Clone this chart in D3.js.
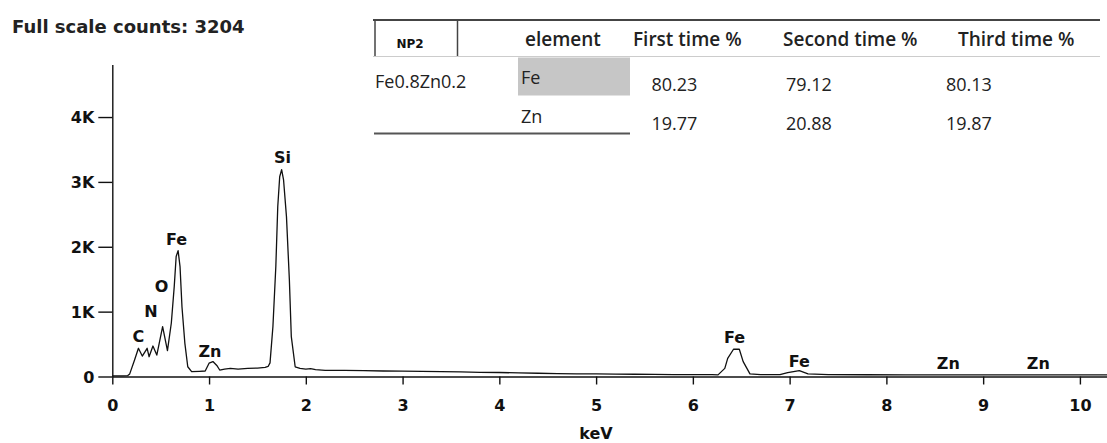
<!DOCTYPE html>
<html>
<head>
<meta charset="utf-8">
<script src="https://cdn.jsdelivr.net/npm/d3@7"></script>
<style>
  body { margin: 0; background: #fff; }
  svg { display: block; }
</style>
</head>
<body>
<div id="chart"></div>
<script>
// EDS spectrum (keV vs counts)
var energy = [0, 0.10, 0.16, 0.18, 0.23, 0.27, 0.31, 0.36, 0.38, 0.42, 0.46, 0.52, 0.57, 0.61, 0.64, 0.66, 0.68, 0.70, 0.72, 0.75, 0.78, 0.82, 0.90, 0.96, 1.00, 1.04, 1.08, 1.11, 1.16, 1.22, 1.30, 1.40, 1.50, 1.58, 1.61, 1.63, 1.66, 1.69, 1.71, 1.73, 1.75, 1.77, 1.80, 1.83, 1.85, 1.89, 1.94, 2.00, 2.05, 2.10, 2.20, 2.40, 2.60, 2.80, 3.00, 3.20, 3.40, 3.60, 3.80, 4.00, 4.20, 4.40, 4.60, 4.80, 5.00, 5.20, 5.40, 5.60, 5.80, 6.00, 6.20, 6.26, 6.33, 6.36, 6.42, 6.48, 6.52, 6.59, 6.70, 6.90, 6.98, 7.10, 7.19, 7.40, 7.80, 8.20, 8.60, 9.00, 9.40, 9.80, 10.28];
var counts = [10, 10, 15, 40, 255, 435, 315, 435, 305, 470, 330, 770, 400, 825, 1385, 1850, 1940, 1695, 1075, 510, 150, 75, 80, 85, 205, 230, 170, 100, 115, 125, 115, 125, 130, 140, 155, 210, 770, 1695, 2620, 3080, 3190, 3030, 2465, 1490, 615, 150, 125, 115, 120, 105, 95, 95, 90, 85, 82, 78, 75, 72, 65, 62, 55, 50, 45, 42, 40, 38, 35, 33, 30, 30, 28, 25, 125, 280, 420, 420, 230, 40, 30, 28, 60, 90, 40, 28, 27, 26, 25, 25, 24, 24, 24];

// peak labels: element, keV, count level of the label baseline
var peakNames = ["C", "N", "O", "Fe", "Zn", "Si", "Fe", "Fe", "Zn", "Zn"];
var peakKeV = [0.27, 0.40, 0.51, 0.665, 1.01, 1.76, 6.43, 7.10, 8.64, 9.57];
var peakLevel = [537, 923, 1309, 2029, 301, 3295, 517, 151, 116, 116];

var xTicks = [0, 1, 2, 3, 4, 5, 6, 7, 8, 9, 10];
var yTicks = [0, 1000, 2000, 3000, 4000];
var fullScale = 3204;

// composition table
var sampleName = "Fe0.8Zn0.2";
var tableTag = "NP2";
var headers = ["element", "First time %", "Second time %", "Third time %"];
var elements = ["Fe", "Zn"];
var firstTime = [80.23, 19.77];
var secondTime = [79.12, 20.88];
var thirdTime = [80.13, 19.87];

var width = 1107, height = 443;
var boldFont = "'DejaVu Sans', Verdana, sans-serif";
var tableFont = "'Open Sans', sans-serif";

var svg = d3.select("#chart").append("svg")
    .attr("width", width)
    .attr("height", height);

svg.append("rect").attr("width", width).attr("height", height).attr("fill", "#fff");

var x = d3.scaleLinear().domain([0, 10.28]).range([112.3, 1107]);
var y = d3.scaleLinear().domain([0, 4810]).range([376.5, 64.5]);

// axes
var xAxis = g => g
    .attr("transform", `translate(0,${y(0)})`)
    .call(d3.axisBottom(x).tickValues(xTicks).tickSize(8).tickSizeOuter(0).tickPadding(15).tickFormat(d3.format("d")))
    .call(g => g.selectAll("line, path").attr("stroke", "#111").attr("stroke-width", 1.4))
    .call(g => g.selectAll("text").attr("fill", "#111"));

var yAxis = g => g
    .attr("transform", `translate(${x(0)},0)`)
    .call(d3.axisLeft(y).tickValues(yTicks).tickSize(14).tickSizeOuter(0).tickPadding(4)
        .tickFormat(d => d === 0 ? "0" : (d / 1000) + "K"))
    .call(g => g.selectAll("line, path").attr("stroke", "#111").attr("stroke-width", 1.4))
    .call(g => g.selectAll("text").attr("fill", "#111").attr("dy", "0.36em"));

svg.append("g").call(xAxis)
    .attr("font-family", boldFont).attr("font-size", 16).attr("font-weight", "bold");
svg.append("g").call(yAxis)
    .attr("font-family", boldFont).attr("font-size", 16).attr("font-weight", "bold");

svg.append("text")
    .attr("x", 596).attr("y", 439)
    .attr("text-anchor", "middle")
    .attr("font-family", boldFont).attr("font-size", 16).attr("font-weight", "bold")
    .attr("fill", "#111")
    .text("keV");

svg.append("text")
    .attr("x", 12).attr("y", 33)
    .attr("font-family", boldFont).attr("font-size", 18).attr("font-weight", "bold")
    .attr("fill", "#222")
    .text("Full scale counts: " + fullScale);

// spectrum
var line = d3.line()
    .x((d, i) => x(energy[i]))
    .y(d => y(d));

svg.append("path")
    .datum(counts)
    .attr("fill", "none")
    .attr("stroke", "#111")
    .attr("stroke-width", 1.3)
    .attr("stroke-linejoin", "round")
    .attr("d", line);

svg.append("g")
    .attr("font-family", boldFont).attr("font-size", 16).attr("font-weight", "bold")
    .attr("fill", "#111").attr("text-anchor", "middle")
    .selectAll("text")
    .data(peakNames)
    .join("text")
    .attr("x", (d, i) => x(peakKeV[i]))
    .attr("y", (d, i) => y(peakLevel[i]))
    .text(d => d);

// table
var tbl = svg.append("g").attr("font-family", tableFont).attr("fill", "#222");

tbl.append("rect")
    .attr("x", 518).attr("y", 57.5).attr("width", 112).attr("height", 38)
    .attr("fill", "#c6c6c6");

tbl.append("line").attr("x1", 373).attr("x2", 1100).attr("y1", 20).attr("y2", 20)
    .attr("stroke", "#444").attr("stroke-width", 2);
tbl.append("line").attr("x1", 373).attr("x2", 1100).attr("y1", 56.5).attr("y2", 56.5)
    .attr("stroke", "#ccc").attr("stroke-width", 1);
tbl.append("line").attr("x1", 375).attr("x2", 375).attr("y1", 20).attr("y2", 56)
    .attr("stroke", "#444").attr("stroke-width", 1.5);
tbl.append("line").attr("x1", 457.5).attr("x2", 457.5).attr("y1", 20).attr("y2", 56)
    .attr("stroke", "#444").attr("stroke-width", 1.5);
tbl.append("line").attr("x1", 374).attr("x2", 630).attr("y1", 133.5).attr("y2", 133.5)
    .attr("stroke", "#555").attr("stroke-width", 2);

tbl.append("text")
    .attr("x", 410).attr("y", 48).attr("text-anchor", "middle")
    .attr("font-family", boldFont).attr("font-size", 12).attr("font-weight", "bold")
    .attr("fill", "#111")
    .text(tableTag);

var headerX = [525, 633, 783, 958];
tbl.selectAll("text.head")
    .data(headers)
    .join("text")
    .attr("class", "head")
    .attr("x", (d, i) => headerX[i]).attr("y", 45.5)
    .attr("font-size", 19).attr("font-weight", 600)
    .text(d => d);

tbl.append("text")
    .attr("x", 375).attr("y", 88)
    .attr("font-size", 18)
    .text(sampleName);

var elemY = [84, 123];
var valY = [90.5, 130];
tbl.selectAll("text.elem")
    .data(elements)
    .join("text")
    .attr("class", "elem")
    .attr("x", 521).attr("y", (d, i) => elemY[i])
    .attr("font-size", 18)
    .text(d => d);

var valueCols = [firstTime, secondTime, thirdTime];
var valueX = [651.5, 786, 946];
valueCols.forEach((col, c) => {
    tbl.selectAll("text.v" + c)
        .data(col)
        .join("text")
        .attr("class", "v" + c)
        .attr("x", valueX[c]).attr("y", (d, i) => valY[i])
        .attr("font-size", 18)
        .text(d => d.toFixed(2));
});
</script>
</body>
</html>
